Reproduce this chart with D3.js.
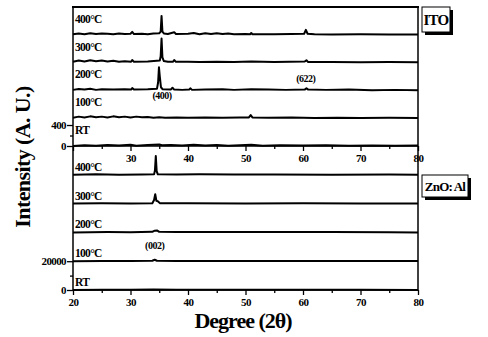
<!DOCTYPE html>
<html lang="en">
  <head>
    <meta charset="UTF-8" />
    <title>XRD ITO / ZnO:Al</title>
    <style>
      body { margin: 0; background: #fff; }
      text { font-family: "Liberation Serif", "Times New Roman", serif; font-weight: bold; fill: #000; }
      .axis text { font-size: 11px; letter-spacing: -0.6px; }
      .axis line { stroke: #000; stroke-width: 1.3; }
      .curve { fill: none; stroke: #000; stroke-width: 2; stroke-linejoin: round; }
    </style>
  </head>
  <body>
    <div id="app"></div>
    <script src="https://cdn.jsdelivr.net/npm/d3@7/dist/d3.min.js"></script>
    <script>
      // strip labels, top to bottom
      let tempLabels = ["400°C", "300°C", "200°C", "100°C", "RT"];

      // ITO patterns: [2theta, counts above strip baseline]
      let ito400 = [[20,10],[21,25],[22,10],[23,30],[24,15],[25,25],[26,20],[27,10],[28,25],[29,15],[30,20],[30.3,55],[30.6,15],[32,20],[33,10],[34,25],[35,30],[35.25,60],[35.4,360],[35.55,60],[35.8,25],[36.5,15],[37.6,50],[37.9,15],[40,20],[41,35],[42,10],[43,30],[44,15],[45,30],[46,15],[47,25],[48,10],[50,15],[50.8,10],[51,35],[51.2,10],[55,10],[58,15],[60.2,20],[60.5,95],[60.8,20],[62,10],[65,5],[70,10],[75,5],[80,5]];
      let ito300 = [[20,15],[21,40],[22,20],[23,45],[24,25],[25,40],[26,20],[27,35],[28,15],[29,25],[30.1,15],[30.3,50],[30.6,15],[33,20],[35.1,40],[35.25,120],[35.4,460],[35.55,100],[35.8,30],[36.5,15],[37.4,15],[37.6,50],[37.9,15],[40,15],[42,10],[45,15],[48,10],[51,20],[55,10],[60.3,20],[60.6,45],[60.9,10],[65,10],[70,5],[75,10],[80,5]];
      let ito200 = [[20,10],[21,25],[22,15],[23,30],[24,10],[25,20],[27,15],[29,20],[30.1,15],[30.3,45],[30.6,15],[33,20],[34.6,30],[34.8,150],[34.95,440],[35.1,260],[35.3,60],[35.6,20],[37,15],[37.3,50],[37.6,15],[39,10],[40.2,15],[40.4,40],[40.7,10],[43,15],[46,20],[48,10],[51,20],[54,15],[57,10],[60.3,15],[60.6,40],[60.9,15],[64,10],[68,15],[72,5],[76,10],[80,5]];
      let ito100 = [[20,10],[21,30],[22,15],[23,35],[24,20],[25,30],[26,15],[27,35],[28,20],[29,30],[30,15],[31,30],[32,20],[33,25],[34,10],[35,20],[36,10],[38,15],[40,10],[43,15],[46,10],[49,15],[50.6,15],[50.9,60],[51.2,15],[54,10],[58,15],[62,5],[66,10],[70,5],[75,10],[80,5]];
      let itoRT = [[20,0],[22,15],[24,5],[26,20],[28,10],[30,25],[31,5],[33,20],[35,30],[35.5,15],[37,20],[39,10],[41,25],[43,10],[45,20],[47,5],[49,15],[51,25],[53,5],[56,15],[60,10],[64,15],[68,5],[72,10],[76,5],[80,10]];

      // ZnO:Al patterns
      let zno400 = [[20,0],[24,300],[28,100],[32,250],[34.1,300],[34.25,3000],[34.4,13000],[34.55,2500],[34.75,300],[38,200],[42,300],[48,150],[55,250],[65,100],[75,150],[80,0]];
      let zno300 = [[20,0],[25,200],[30,100],[33.8,300],[34.1,2500],[34.3,6500],[34.5,2000],[34.8,1500],[35.1,300],[40,200],[50,100],[60,200],[70,100],[80,0]];
      let zno200 = [[20,0],[26,200],[30,100],[33.8,400],[34.2,1200],[34.6,1400],[35,400],[38,200],[45,300],[55,200],[65,300],[75,100],[80,0]];
      let zno100 = [[20,0],[25,150],[30,100],[33.8,300],[34.2,1000],[34.6,300],[38,100],[45,200],[55,100],[65,150],[80,100]];
      let znoRT = [[20,0],[25,200],[30,100],[34,300],[38,100],[45,200],[50,100],[60,150],[70,100],[80,0]];

      let itoSeries = [ito400, ito300, ito200, ito100, itoRT];
      let znoSeries = [zno400, zno300, zno200, zno100, znoRT];

      // stacking offsets (counts) and axis ticks
      let itoStep = 530;
      let znoStep = 20000;
      let itoTicks = [0, 400];
      let znoTicks = [0, 20000];
      let degTicks = [20, 30, 40, 50, 60, 70, 80];

      window.onload = function() {
        let width = 488;
        let height = 337;

        const svg = d3
          .select("#app")
          .append("svg")
          .attr("width", width)
          .attr("height", height);

        let x = d3.scaleLinear().domain([20, 80]).range([73, 418]);
        let yTop = d3.scaleLinear().domain([0, itoStep * 5]).range([146, 7]);
        let yBot = d3.scaleLinear().domain([0, znoStep * 5]).range([290, 146]);

        function drawPanel(series, y, step, yTicks, minor, showFirstX, labelDy) {
          let g = svg.append("g");
          // curves
          series.forEach(function(s, i) {
            let off = (series.length - 1 - i) * step;
            let line = d3
              .line()
              .x(d => x(d[0]))
              .y(d => y(off + d[1]));
            g.append("path").attr("class", "curve").attr("d", line(s));
            g.append("text")
              .attr("x", 75)
              .attr("y", y(off) - labelDy)
              .attr("font-size", 11.5)
              .attr("letter-spacing", -0.7)
              .text(tempLabels[i]);
          });

          // x axis
          let xAxis = d3
            .axisBottom(x)
            .tickValues(degTicks)
            .tickSize(5)
            .tickPadding(3)
            .tickFormat(d => (d === 20 && !showFirstX ? "" : d));
          g.append("g")
            .attr("class", "axis")
            .attr("transform", `translate(0,${y(0)})`)
            .call(xAxis)
            .call(a => a.select(".domain").remove());
          g.append("g")
            .attr("class", "axis")
            .attr("transform", `translate(0,${y(0)})`)
            .call(d3.axisBottom(x).tickValues([25, 35, 45, 55, 65, 75]).tickSize(3).tickFormat(""))
            .call(a => a.select(".domain").remove());

          // y axis
          g.append("g")
            .attr("class", "axis")
            .attr("transform", "translate(73,0)")
            .call(d3.axisLeft(y).tickValues(yTicks).tickSize(6).tickPadding(1).tickFormat(d3.format("d")))
            .call(a => a.select(".domain").remove());
          g.append("g")
            .attr("class", "axis")
            .attr("transform", "translate(73,0)")
            .call(d3.axisLeft(y).tickValues([minor]).tickSize(3).tickFormat(""))
            .call(a => a.select(".domain").remove());

          g.append("line")
            .attr("x1", 73).attr("x2", 418)
            .attr("y1", y(0)).attr("y2", y(0))
            .attr("stroke", "#000").attr("stroke-width", 1.5);
        }

        drawPanel(itoSeries, yTop, itoStep, itoTicks, 200, false, 12);
        drawPanel(znoSeries, yBot, znoStep, znoTicks, 10000, true, 4);

        // frame
        svg.append("line").attr("x1", 72).attr("x2", 419).attr("y1", 7).attr("y2", 7)
          .attr("stroke", "#000").attr("stroke-width", 2);
        svg.append("line").attr("x1", 73).attr("x2", 73).attr("y1", 7).attr("y2", 290)
          .attr("stroke", "#000").attr("stroke-width", 1.5);
        svg.append("line").attr("x1", 418).attr("x2", 418).attr("y1", 7).attr("y2", 290)
          .attr("stroke", "#000").attr("stroke-width", 1.5);

        // peak labels
        svg.append("text").attr("x", x(35.5)).attr("y", 99).attr("text-anchor", "middle")
          .attr("font-size", 10).attr("letter-spacing", -0.5).text("(400)");
        svg.append("text").attr("x", x(60.5)).attr("y", 82).attr("text-anchor", "middle")
          .attr("font-size", 10).attr("letter-spacing", -0.5).text("(622)");
        svg.append("text").attr("x", x(34.2)).attr("y", 249).attr("text-anchor", "middle")
          .attr("font-size", 10).attr("letter-spacing", -0.5).text("(002)");

        // legend boxes with shadow
        function tag(bx, by, bw, bh, label, fs) {
          svg.append("rect").attr("x", bx + 3).attr("y", by + 3).attr("width", bw).attr("height", bh).attr("fill", "#000");
          svg.append("rect").attr("x", bx).attr("y", by).attr("width", bw).attr("height", bh)
            .attr("fill", "#fff").attr("stroke", "#000").attr("stroke-width", 1);
          svg.append("text").attr("x", bx + bw / 2).attr("y", by + bh / 2 + fs * 0.35)
            .attr("text-anchor", "middle").attr("font-size", fs).attr("letter-spacing", -0.8).text(label);
        }
        tag(422, 7, 28, 25, "ITO", 15);
        tag(422, 175, 46, 22, "ZnO: Al", 13);

        // axis titles
        svg.append("text")
          .attr("transform", "translate(30,157) rotate(-90)")
          .attr("text-anchor", "middle")
          .attr("font-size", 22)
          .attr("letter-spacing", -0.6)
          .text("Intensity (A. U.)");
        svg.append("text")
          .attr("x", 243)
          .attr("y", 328)
          .attr("text-anchor", "middle")
          .attr("font-size", 22)
          .attr("letter-spacing", -1)
          .text("Degree (2θ)");
      };
    </script>
  </body>
</html>
